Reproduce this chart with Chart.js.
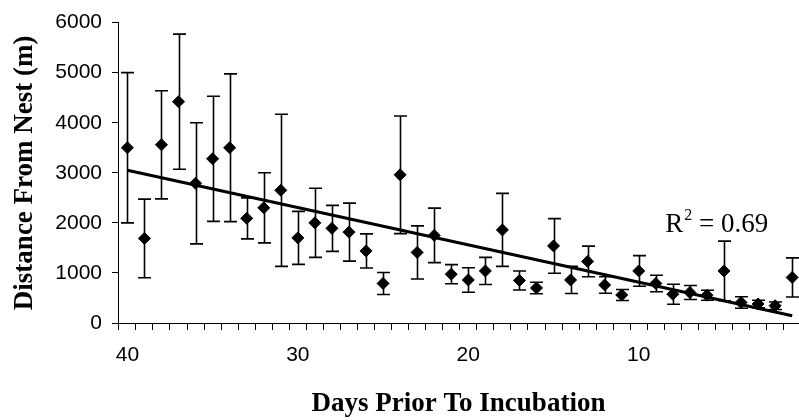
<!DOCTYPE html>
<html>
<head>
<meta charset="utf-8">
<script src="https://cdn.jsdelivr.net/npm/chart.js@4/dist/chart.umd.min.js"></script>
<style>
  html, body { margin: 0; padding: 0; background: #fff; }
  #wrap { width: 799px; height: 420px; }
</style>
</head>
<body>
<div id="wrap"><canvas id="myChart" width="799" height="420"></canvas></div>
<script>
// DATA
const days = [40, 39, 38, 37, 36, 35, 34, 33, 32, 31, 30, 29, 28, 27, 26, 25, 24, 23, 22, 21,
              20, 19, 18, 17, 16, 15, 14, 13, 12, 11, 10, 9, 8, 7, 6, 5, 4, 3, 2, 1];
const meanDist = [3500, 1690, 3560, 4420, 2790, 3280, 3500, 2090, 2300, 2650, 1700, 2000, 1890, 1815, 1440, 790, 2960, 1410, 1750, 975,
                  860, 1040, 1860, 850, 700, 1540, 860, 1230, 760, 560, 1040, 790, 575, 610, 555, 1040, 410, 380, 345, 910];
const distError = [1500, 785, 1080, 1350, 1210, 1250, 1475, 410, 700, 1520, 530, 690, 460, 580, 340, 220, 1175, 530, 545, 190,
                   245, 270, 730, 190, 115, 545, 270, 305, 165, 110, 305, 165, 200, 140, 100, 595, 115, 75, 75, 390];
const trendDays = [40, 1];
const trendDist = [3050, 145];
const xLabels = [40, 30, 20, 10];
const yTicks = [0, 1000, 2000, 3000, 4000, 5000, 6000];
const r2Value = '0.69';

Chart.defaults.font.family = "'Liberation Sans', Arial, sans-serif";
Chart.defaults.color = '#000';

const serif = "'Liberation Serif', 'Times New Roman', serif";

// error bars, drawn under the markers
const errorBars = {
    id: 'errorBars',
    beforeDatasetsDraw(chart) {
        const { ctx, scales: { x, y } } = chart;
        ctx.save();
        ctx.strokeStyle = '#000';
        ctx.lineWidth = 1.6;
        days.forEach((d, i) => {
            const px = Math.round(x.getPixelForValue(d)) + 0.5;
            const top = y.getPixelForValue(meanDist[i] + distError[i]);
            const bot = y.getPixelForValue(meanDist[i] - distError[i]);
            ctx.beginPath();
            ctx.moveTo(px, top);
            ctx.lineTo(px, bot);
            ctx.moveTo(px - 6.5, top);
            ctx.lineTo(px + 6.5, top);
            ctx.moveTo(px - 6.5, bot);
            ctx.lineTo(px + 6.5, bot);
            ctx.stroke();
        });
        ctx.restore();
    }
};

// R squared label
const r2Label = {
    id: 'r2Label',
    afterDatasetsDraw(chart) {
        const { ctx, scales: { x, y } } = chart;
        let px = x.getPixelForValue(8.45);
        const py = y.getPixelForValue(1815);
        ctx.save();
        ctx.fillStyle = '#000';
        ctx.textBaseline = 'alphabetic';
        ctx.textAlign = 'left';
        ctx.font = '27px ' + serif;
        ctx.fillText('R', px, py);
        px += ctx.measureText('R').width + 1;
        ctx.font = '16px ' + serif;
        ctx.fillText('2', px, py - 12);
        px += ctx.measureText('2').width;
        ctx.font = '27px ' + serif;
        ctx.fillText(' = ' + r2Value, px, py);
        ctx.restore();
    }
};

const ctx = document.getElementById('myChart').getContext('2d');
new Chart(ctx, {
    type: 'scatter',
    data: {
        datasets: [
            {
                label: 'Distance',
                data: days.map((d, i) => ({ x: d, y: meanDist[i] })),
                pointStyle: 'rectRot',
                pointRadius: 6,
                pointBackgroundColor: '#000',
                pointBorderColor: '#000',
                pointBorderWidth: 1,
                showLine: false,
                clip: false
            },
            {
                label: 'Trend',
                type: 'line',
                data: trendDays.map((d, i) => ({ x: d, y: trendDist[i] })),
                borderColor: '#000',
                borderWidth: 3.2,
                pointRadius: 0,
                fill: false,
                clip: false
            }
        ]
    },
    options: {
        responsive: false,
        animation: false,
        layout: { autoPadding: false, padding: { top: 20, right: 0, left: 0, bottom: 0 } },
        plugins: {
            legend: { display: false },
            tooltip: { enabled: false }
        },
        scales: {
            x: {
                type: 'linear',
                reverse: true,
                min: 0.6,
                max: 40.55,
                weight: 0,
                afterBuildTicks: (scale) => {
                    scale.ticks = days.map(d => ({ value: d + 0.5 }));
                },
                ticks: { display: false },
                grid: { drawOnChartArea: false, drawTicks: true, tickLength: 7, color: '#000', lineWidth: 1 },
                border: { display: true, color: '#000', width: 1 }
            },
            x2: {
                type: 'linear',
                position: 'bottom',
                reverse: true,
                min: 0.6,
                max: 40.55,
                weight: 1,
                afterBuildTicks: (scale) => {
                    scale.ticks = xLabels.map(v => ({ value: v }));
                },
                afterFit: (scale) => { scale.height = 90; },
                ticks: {
                    font: { size: 21 },
                    padding: 13,
                    maxRotation: 0,
                    autoSkip: false
                },
                grid: { display: false, drawTicks: false },
                border: { display: false },
                title: {
                    display: true,
                    text: 'Days Prior To Incubation',
                    font: { family: serif, size: 27, weight: 'bold' },
                    padding: { top: 0, bottom: 0 }
                }
            },
            y: {
                min: 0,
                max: 6000,
                afterBuildTicks: (scale) => {
                    scale.ticks = yTicks.map(v => ({ value: v }));
                },
                afterFit: (scale) => { scale.width = 118; },
                ticks: {
                    font: { size: 21 },
                    padding: 10,
                    callback: (v) => String(v)
                },
                grid: { drawOnChartArea: false, drawTicks: true, tickLength: 6, color: '#000', lineWidth: 1 },
                border: { display: true, color: '#000', width: 1 },
                title: {
                    display: true,
                    text: 'Distance From Nest (m)',
                    font: { family: serif, size: 27, weight: 'bold' },
                    padding: { top: 9, bottom: 0 }
                }
            }
        }
    },
    plugins: [errorBars, r2Label]
});
</script>
</body>
</html>
